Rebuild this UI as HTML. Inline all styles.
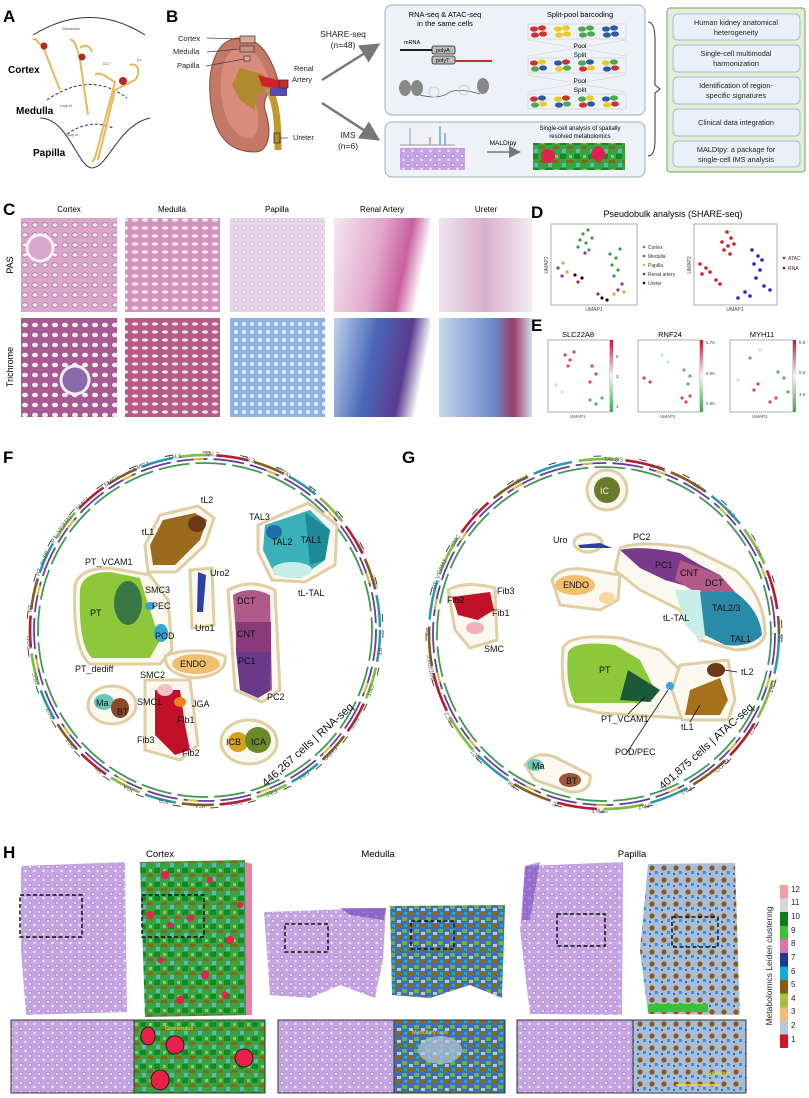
<!DOCTYPE html>
<html><head><meta charset="utf-8"><style>
html,body{margin:0;padding:0;background:#fff;}
svg{display:block;font-family:"Liberation Sans",sans-serif;}
</style></head><body>
<svg width="809" height="1098" viewBox="0 0 809 1098" xmlns="http://www.w3.org/2000/svg">
<defs>
<pattern id="he" width="9" height="9" patternUnits="userSpaceOnUse"><rect width="9" height="9" fill="#c7a5e2"/><circle cx="3" cy="3" r="1.8" fill="#e8dcf4" stroke="#9a70c8" stroke-width="0.6"/><circle cx="7.5" cy="7" r="1.2" fill="#efe6f8"/></pattern>
<pattern id="ctxims" width="14" height="14" patternUnits="userSpaceOnUse"><rect width="14" height="14" fill="#3aa23e"/><rect x="0" y="0" width="6" height="5" fill="#148a24"/><rect x="7" y="6" width="6" height="3" fill="#8a6418"/><rect x="2" y="9" width="4" height="4" fill="#5ab8c0"/><rect x="9" y="1" width="3" height="3" fill="#7ad07a"/></pattern>
<pattern id="medims" width="12" height="12" patternUnits="userSpaceOnUse"><rect width="12" height="12" fill="#3f6fb0"/><rect x="0" y="0" width="5" height="4" fill="#8a6620"/><rect x="6" y="5" width="5" height="4" fill="#6ab050"/><rect x="1" y="8" width="4" height="3" fill="#b8c8e0"/><rect x="8" y="0" width="3" height="3" fill="#20a8d8"/></pattern>
<pattern id="papims" width="12" height="12" patternUnits="userSpaceOnUse"><rect width="12" height="12" fill="#a9bdd9"/><circle cx="4" cy="4" r="2.6" fill="#8a5a18"/><rect x="7" y="7" width="3" height="3" fill="#20a0d8"/><rect x="1" y="9" width="2" height="2" fill="#3a6ab0"/></pattern>
<pattern id="pas1" width="10" height="10" patternUnits="userSpaceOnUse"><rect width="10" height="10" fill="#d9a7cc"/><ellipse cx="5" cy="5" rx="3" ry="2.2" fill="#f6eef4" stroke="#b0608f" stroke-width="0.7"/></pattern>
<pattern id="pas2" width="10" height="8" patternUnits="userSpaceOnUse"><rect width="10" height="8" fill="#d493bf"/><ellipse cx="5" cy="4" rx="3.3" ry="1.7" fill="#f3e6ef"/></pattern>
<pattern id="pas3" width="8" height="8" patternUnits="userSpaceOnUse"><rect width="8" height="8" fill="#e9d6ea"/><circle cx="4" cy="4" r="2" fill="#f8f2f8" stroke="#b89ac8" stroke-width="0.6"/></pattern>
<pattern id="tri1" width="10" height="10" patternUnits="userSpaceOnUse"><rect width="10" height="10" fill="#a85a92"/><ellipse cx="5" cy="5" rx="3" ry="2.3" fill="#f4eef4"/></pattern>
<pattern id="tri2" width="10" height="8" patternUnits="userSpaceOnUse"><rect width="10" height="8" fill="#b85a86"/><ellipse cx="5" cy="4" rx="3.2" ry="1.6" fill="#f2e4ee"/></pattern>
<pattern id="tri3" width="8" height="8" patternUnits="userSpaceOnUse"><rect width="8" height="8" fill="#8fb2de"/><circle cx="4" cy="4" r="2" fill="#e4eef8"/></pattern>
<linearGradient id="ra1" x1="0" y1="0" x2="1" y2="0.2"><stop offset="0" stop-color="#f4e8f0"/><stop offset="0.5" stop-color="#e2a8cc"/><stop offset="0.8" stop-color="#c8609e"/><stop offset="1" stop-color="#fff"/></linearGradient>
<linearGradient id="ra2" x1="0" y1="0" x2="1" y2="0.2"><stop offset="0" stop-color="#c0d4ec"/><stop offset="0.45" stop-color="#4a68b8"/><stop offset="0.8" stop-color="#5a3a90"/><stop offset="1" stop-color="#fff"/></linearGradient>
<linearGradient id="ur1" x1="0" y1="0" x2="1" y2="0"><stop offset="0" stop-color="#f0e4ee"/><stop offset="0.5" stop-color="#d8b0cc"/><stop offset="1" stop-color="#f4ecf2"/></linearGradient>
<linearGradient id="ur2" x1="0" y1="0" x2="1" y2="0"><stop offset="0" stop-color="#c8d8ee"/><stop offset="0.6" stop-color="#6a88c8"/><stop offset="0.8" stop-color="#9a3a6a"/><stop offset="1" stop-color="#d0dcee"/></linearGradient>
<linearGradient id="cb" x1="0" y1="1" x2="0" y2="0">
<stop offset="0" stop-color="#d81030"/><stop offset="0.083" stop-color="#d81030"/>
<stop offset="0.083" stop-color="#b8c8e0"/><stop offset="0.167" stop-color="#b8c8e0"/>
<stop offset="0.167" stop-color="#f8b878"/><stop offset="0.25" stop-color="#f8b878"/>
<stop offset="0.25" stop-color="#a8c040"/><stop offset="0.333" stop-color="#a8c040"/>
<stop offset="0.333" stop-color="#8a5a10"/><stop offset="0.417" stop-color="#8a5a10"/>
<stop offset="0.417" stop-color="#18a8d8"/><stop offset="0.5" stop-color="#18a8d8"/>
<stop offset="0.5" stop-color="#1a3a9a"/><stop offset="0.583" stop-color="#1a3a9a"/>
<stop offset="0.583" stop-color="#e070b0"/><stop offset="0.667" stop-color="#e070b0"/>
<stop offset="0.667" stop-color="#3cc03c"/><stop offset="0.75" stop-color="#3cc03c"/>
<stop offset="0.75" stop-color="#0a7a1a"/><stop offset="0.833" stop-color="#0a7a1a"/>
<stop offset="0.833" stop-color="#d8d8d8"/><stop offset="0.917" stop-color="#d8d8d8"/>
<stop offset="0.917" stop-color="#f4a0a0"/><stop offset="1" stop-color="#f4a0a0"/>
</linearGradient>
<linearGradient id="rg" x1="0" y1="1" x2="0" y2="0"><stop offset="0" stop-color="#3aa84a"/><stop offset="0.5" stop-color="#f4f4f4"/><stop offset="1" stop-color="#d0102a"/></linearGradient>
<marker id="ah" markerWidth="8" markerHeight="8" refX="6" refY="4" orient="auto"><path d="M0,0 L8,4 L0,8 z" fill="#777"/></marker>
<marker id="ah2" markerWidth="8" markerHeight="8" refX="6" refY="4" orient="auto"><path d="M0,0 L8,4 L0,8 z" fill="#555"/></marker>
<path id="cf" d="M205,456 A174,174 0 1 1 204.9,456"/>
<path id="cg" d="M604,461 A174,174 0 1 1 603.9,461"/>
</defs>

<!-- ===== A ===== -->
<text x="3" y="22" font-size="17" font-weight="bold">A</text>
<path d="M33,35 Q90,0 145,35" fill="none" stroke="#333" stroke-width="1"/>
<path d="M47,100 Q90,70 127,98" fill="none" stroke="#333" stroke-width="1" stroke-dasharray="3,2"/>
<path d="M40,118 C68,118 78,168 92,168 C108,168 118,125 150,118" fill="none" stroke="#333" stroke-width="1"/>
<path d="M67,134 Q90,118 113,128" fill="none" stroke="#333" stroke-width="1" stroke-dasharray="3,2"/>
<g fill="none" stroke="#e6b85a" stroke-width="2">
<path d="M33,40 C38,36 36,45 42,44 L60,90"/>
<path d="M70,40 C75,38 78,52 80,60 L88,115"/>
<path d="M95,75 C100,70 110,80 115,82 L95,158 L92,162"/>
<path d="M130,65 C140,62 140,75 135,80 L115,90 L98,160"/>
<path d="M80,48 C84,44 90,45 92,52"/>
</g>
<g fill="#b02a2a"><circle cx="44" cy="46" r="3.5"/><circle cx="82" cy="57" r="3.5"/><circle cx="123" cy="81" r="4"/></g>
<g font-size="3.5" fill="#444"><text x="62" y="30">Glomerulus</text><text x="103" y="65">DCT</text><text x="137" y="62">PT</text><text x="60" y="107">Loop of</text><text x="66" y="136">Loop of</text></g>
<g font-size="10" font-weight="bold"><text x="8" y="73">Cortex</text><text x="16" y="114">Medulla</text><text x="33" y="156">Papilla</text></g>

<!-- ===== B ===== -->
<text x="166" y="22" font-size="17" font-weight="bold">B</text>
<path d="M240,38 C215,38 208,70 210,95 C212,130 225,152 255,152 C270,152 272,130 265,110 C262,100 270,88 278,80 C270,55 260,38 240,38 z" fill="#c47866" stroke="#8a4a3a" stroke-width="1"/>
<path d="M238,48 C222,52 218,80 222,100 C226,125 238,140 252,138 C262,130 258,110 255,100 C262,90 268,82 268,76 C262,58 252,48 238,48 z" fill="#d98c7c"/>
<path d="M240,68 L262,74 L270,82 L258,95 L254,110 L240,100 L232,85 z" fill="#b08a2e"/>
<path d="M268,88 C276,100 278,120 278,150" stroke="#c4972e" stroke-width="7" fill="none"/>
<path d="M258,75 L285,82 L282,90 L262,86 z" fill="#d0202a"/>
<rect x="270" y="88" width="17" height="8" fill="#5a4ab0"/>
<rect x="279" y="80" width="9" height="8" fill="#c03030" stroke="#333" stroke-width="0.8"/>
<rect x="274" y="133" width="6" height="10" fill="#b08a2e" stroke="#333" stroke-width="0.8"/>
<rect x="240" y="36" width="15" height="7" fill="#d8a898" stroke="#444" stroke-width="0.8"/>
<rect x="240" y="46" width="14" height="6" fill="#c8907c" stroke="#444" stroke-width="0.8"/>
<rect x="244" y="56" width="6" height="5" fill="#d8a898" stroke="#444" stroke-width="0.8"/>
<g font-size="7.5" fill="#222"><text x="178" y="41">Cortex</text><text x="173" y="54">Medulla</text><text x="177" y="68">Papilla</text>
<text x="294" y="71">Renal</text><text x="292" y="82">Artery</text><text x="293" y="140">Ureter</text></g>
<g stroke="#444" stroke-width="0.7"><line x1="207" y1="38" x2="240" y2="39"/><line x1="207" y1="52" x2="240" y2="49"/><line x1="206" y1="66" x2="244" y2="59"/><line x1="288" y1="138" x2="280" y2="138"/></g>
<text x="343" y="37" font-size="8.5" text-anchor="middle" fill="#222">SHARE-seq</text>
<text x="343" y="48" font-size="8.5" text-anchor="middle" fill="#222">(n=48)</text>
<text x="348" y="138" font-size="8.5" text-anchor="middle" fill="#222">IMS</text>
<text x="348" y="149" font-size="8.5" text-anchor="middle" fill="#222">(n=6)</text>
<line x1="322" y1="80" x2="376" y2="46" stroke="#777" stroke-width="2.5" marker-end="url(#ah)"/>
<line x1="322" y1="103" x2="376" y2="138" stroke="#777" stroke-width="2.5" marker-end="url(#ah)"/>

<rect x="385" y="5" width="260" height="110" rx="7" fill="#eef2f7" stroke="#a8bccf" stroke-width="1.2"/>
<rect x="385" y="122" width="260" height="55" rx="7" fill="#eef2f7" stroke="#a8bccf" stroke-width="1.2"/>
<text x="445" y="17" font-size="7.5" text-anchor="middle">RNA-seq &amp; ATAC-seq</text>
<text x="445" y="26" font-size="7.5" text-anchor="middle">in the same cells</text>
<text x="580" y="17" font-size="7.5" text-anchor="middle">Split-pool barcoding</text>
<text x="404" y="44" font-size="5.5">mRNA</text>
<line x1="400" y1="50" x2="433" y2="50" stroke="#222" stroke-width="2"/>
<rect x="432" y="46" width="23" height="8" rx="2" fill="#bbb" stroke="#222" stroke-width="0.8"/><text x="436" y="52" font-size="5.5">polyA</text>
<rect x="432" y="56" width="23" height="8" rx="2" fill="#bbb" stroke="#222" stroke-width="0.8"/><text x="436" y="62" font-size="5.5">polyT</text>
<line x1="455" y1="61" x2="492" y2="61" stroke="#c03030" stroke-width="2"/>
<g fill="#888"><ellipse cx="405" cy="88" rx="6" ry="8"/><ellipse cx="417" cy="88" rx="6" ry="8"/><ellipse cx="483" cy="86" rx="6" ry="8"/></g>
<path d="M420,95 Q440,100 450,92 Q460,88 480,94" fill="none" stroke="#555" stroke-width="0.8"/>
<circle cx="434" cy="92" r="5" fill="none" stroke="#ccc"/><circle cx="464" cy="90" r="5" fill="none" stroke="#ccc"/>
<g>
<g transform="translate(530,26)"><ellipse cx="4" cy="3" rx="4" ry="2.6" fill="#d03030"/><ellipse cx="12" cy="2" rx="4" ry="2.6" fill="#d03030"/><ellipse cx="5" cy="9" rx="4" ry="2.6" fill="#d03030"/><ellipse cx="13" cy="8" rx="4" ry="2.6" fill="#d03030"/></g>
<g transform="translate(554,26)"><ellipse cx="4" cy="3" rx="4" ry="2.6" fill="#e8cc20"/><ellipse cx="12" cy="2" rx="4" ry="2.6" fill="#e8cc20"/><ellipse cx="5" cy="9" rx="4" ry="2.6" fill="#e8cc20"/><ellipse cx="13" cy="8" rx="4" ry="2.6" fill="#e8cc20"/></g>
<g transform="translate(578,26)"><ellipse cx="4" cy="3" rx="4" ry="2.6" fill="#4aaa4a"/><ellipse cx="12" cy="2" rx="4" ry="2.6" fill="#4aaa4a"/><ellipse cx="5" cy="9" rx="4" ry="2.6" fill="#4aaa4a"/><ellipse cx="13" cy="8" rx="4" ry="2.6" fill="#4aaa4a"/></g>
<g transform="translate(602,26)"><ellipse cx="4" cy="3" rx="4" ry="2.6" fill="#2a5aa8"/><ellipse cx="12" cy="2" rx="4" ry="2.6" fill="#2a5aa8"/><ellipse cx="5" cy="9" rx="4" ry="2.6" fill="#2a5aa8"/><ellipse cx="13" cy="8" rx="4" ry="2.6" fill="#2a5aa8"/></g>
</g>
<g>
<g transform="translate(530,60)"><ellipse cx="4" cy="3" rx="4" ry="2.6" fill="#d03030"/><ellipse cx="12" cy="2" rx="4" ry="2.6" fill="#e8cc20"/><ellipse cx="5" cy="9" rx="4" ry="2.6" fill="#4aaa4a"/><ellipse cx="13" cy="8" rx="4" ry="2.6" fill="#2a5aa8"/></g>
<g transform="translate(554,60)"><ellipse cx="4" cy="3" rx="4" ry="2.6" fill="#2a5aa8"/><ellipse cx="12" cy="2" rx="4" ry="2.6" fill="#d03030"/><ellipse cx="5" cy="9" rx="4" ry="2.6" fill="#e8cc20"/><ellipse cx="13" cy="8" rx="4" ry="2.6" fill="#4aaa4a"/></g>
<g transform="translate(578,60)"><ellipse cx="4" cy="3" rx="4" ry="2.6" fill="#4aaa4a"/><ellipse cx="12" cy="2" rx="4" ry="2.6" fill="#2a5aa8"/><ellipse cx="5" cy="9" rx="4" ry="2.6" fill="#d03030"/><ellipse cx="13" cy="8" rx="4" ry="2.6" fill="#e8cc20"/></g>
<g transform="translate(602,60)"><ellipse cx="4" cy="3" rx="4" ry="2.6" fill="#e8cc20"/><ellipse cx="12" cy="2" rx="4" ry="2.6" fill="#4aaa4a"/><ellipse cx="5" cy="9" rx="4" ry="2.6" fill="#2a5aa8"/><ellipse cx="13" cy="8" rx="4" ry="2.6" fill="#d03030"/></g>
</g>
<g>
<g transform="translate(530,96)"><ellipse cx="4" cy="3" rx="4" ry="2.6" fill="#d03030"/><ellipse cx="12" cy="2" rx="4" ry="2.6" fill="#2a5aa8"/><ellipse cx="5" cy="9" rx="4" ry="2.6" fill="#4aaa4a"/><ellipse cx="13" cy="8" rx="4" ry="2.6" fill="#e8cc20"/></g>
<g transform="translate(554,96)"><ellipse cx="4" cy="3" rx="4" ry="2.6" fill="#e8cc20"/><ellipse cx="12" cy="2" rx="4" ry="2.6" fill="#d03030"/><ellipse cx="5" cy="9" rx="4" ry="2.6" fill="#2a5aa8"/><ellipse cx="13" cy="8" rx="4" ry="2.6" fill="#4aaa4a"/></g>
<g transform="translate(578,96)"><ellipse cx="4" cy="3" rx="4" ry="2.6" fill="#4aaa4a"/><ellipse cx="12" cy="2" rx="4" ry="2.6" fill="#e8cc20"/><ellipse cx="5" cy="9" rx="4" ry="2.6" fill="#d03030"/><ellipse cx="13" cy="8" rx="4" ry="2.6" fill="#2a5aa8"/></g>
<g transform="translate(602,96)"><ellipse cx="4" cy="3" rx="4" ry="2.6" fill="#2a5aa8"/><ellipse cx="12" cy="2" rx="4" ry="2.6" fill="#4aaa4a"/><ellipse cx="5" cy="9" rx="4" ry="2.6" fill="#e8cc20"/><ellipse cx="13" cy="8" rx="4" ry="2.6" fill="#d03030"/></g>
</g>
<g stroke="#ccc" stroke-width="0.6" fill="none"><rect x="528" y="24" width="98" height="15"/><rect x="528" y="58" width="98" height="15"/><rect x="528" y="94" width="98" height="15"/><path d="M528,40 L626,56 M626,40 L528,56 M528,75 L626,92 M626,75 L528,92"/></g>
<g font-size="6.5" text-anchor="middle"><text x="580" y="48">Pool</text><text x="580" y="57">Split</text><text x="580" y="83">Pool</text><text x="580" y="92">Split</text></g>
<g stroke-width="1"><line x1="410" y1="145" x2="410" y2="128" stroke="#999"/><line x1="430" y1="145" x2="430" y2="137" stroke="#d06060"/><line x1="440" y1="145" x2="440" y2="126" stroke="#3a7ac0"/><line x1="445" y1="145" x2="445" y2="133" stroke="#3a7ac0"/><line x1="400" y1="145" x2="455" y2="145" stroke="#999"/></g>
<rect x="400" y="148" width="65" height="22" fill="url(#he)"/>
<text x="503" y="145" font-size="6.5" text-anchor="middle">MALDIpy</text>
<line x1="487" y1="152" x2="518" y2="152" stroke="#777" stroke-width="1.5" marker-end="url(#ah)"/>
<text x="580" y="130" font-size="6" text-anchor="middle">Single-cell analysis of spatially</text>
<text x="580" y="138" font-size="6" text-anchor="middle">resolved metabolomics</text>
<rect x="533" y="143" width="92" height="27" fill="url(#ctxims)"/>
<circle cx="548" cy="156" r="7" fill="#e02050"/><circle cx="598" cy="154" r="7" fill="#e02050"/>
<path d="M648,22 Q655,22 655,40 L655,85 L660,89 L655,93 L655,140 Q655,156 648,156" fill="none" stroke="#333" stroke-width="1"/>
<rect x="667" y="8" width="138" height="164" rx="3" fill="#e2efd8" stroke="#8aaf72" stroke-width="1.2"/>
<g fill="#e9f0f8" stroke="#a8bccf" stroke-width="1">
<rect x="673" y="14" width="127" height="26" rx="5"/><rect x="673" y="45" width="127" height="27" rx="5"/><rect x="673" y="77" width="127" height="27" rx="5"/><rect x="673" y="109" width="127" height="27" rx="5"/><rect x="673" y="141" width="127" height="26" rx="5"/></g>
<g font-size="7.3" text-anchor="middle" fill="#222">
<text x="736" y="25">Human kidney anatomical</text><text x="736" y="35">heterogeneity</text>
<text x="736" y="56">Single-cell multimodal</text><text x="736" y="66">harmonization</text>
<text x="736" y="88">Identification of region-</text><text x="736" y="98">specific signatures</text>
<text x="736" y="125">Clinical data integration</text>
<text x="736" y="152">MALDIpy: a package for</text><text x="736" y="162">single-cell IMS analysis</text></g>

<!-- ===== C ===== -->
<text x="3" y="215" font-size="17" font-weight="bold">C</text>
<g font-size="8" text-anchor="middle"><text x="69" y="212">Cortex</text><text x="172" y="212">Medulla</text><text x="277" y="212">Papilla</text><text x="382" y="212">Renal Artery</text><text x="486" y="212">Ureter</text></g>
<text transform="translate(13,265) rotate(-90)" font-size="9" text-anchor="middle">PAS</text>
<text transform="translate(13,367) rotate(-90)" font-size="9" text-anchor="middle">Trichrome</text>
<rect x="21" y="218" width="96" height="94" fill="url(#pas1)"/>
<circle cx="40" cy="248" r="13" fill="#d8a8cc" stroke="#f6eef4" stroke-width="3"/>
<rect x="125" y="218" width="95" height="94" fill="url(#pas2)"/>
<rect x="230" y="218" width="95" height="94" fill="url(#pas3)"/>
<rect x="334" y="218" width="96" height="94" fill="url(#ra1)"/>
<rect x="439" y="218" width="93" height="94" fill="url(#ur1)"/>
<rect x="21" y="318" width="96" height="99" fill="url(#tri1)"/>
<circle cx="75" cy="380" r="14" fill="#8a6aa8" stroke="#f4eef4" stroke-width="3"/>
<rect x="125" y="318" width="95" height="99" fill="url(#tri2)"/>
<rect x="230" y="318" width="95" height="99" fill="url(#tri3)"/>
<rect x="334" y="318" width="96" height="99" fill="url(#ra2)"/>
<rect x="439" y="318" width="93" height="99" fill="url(#ur2)"/>

<!-- ===== D ===== -->
<text x="531" y="218" font-size="17" font-weight="bold">D</text>
<text x="673" y="217" font-size="9" text-anchor="middle">Pseudobulk analysis (SHARE-seq)</text>
<rect x="551" y="224" width="86" height="81" fill="#fff" stroke="#999" stroke-width="0.8"/>
<rect x="694" y="224" width="83" height="81" fill="#fff" stroke="#999" stroke-width="0.8"/>
<g font-size="5" fill="#444" text-anchor="middle"><text x="594" y="311">UMAP1</text><text x="735" y="311">UMAP1</text>
<text transform="translate(548,265) rotate(-90)">UMAP2</text><text transform="translate(691,265) rotate(-90)">UMAP2</text></g>
<g fill="#3a9a4a"><circle cx="583" cy="234" r="1.6"/><circle cx="588" cy="230" r="1.6"/><circle cx="580" cy="240" r="1.6"/><circle cx="586" cy="243" r="1.6"/><circle cx="592" cy="238" r="1.6"/><circle cx="578" cy="247" r="1.6"/><circle cx="589" cy="250" r="1.6"/><circle cx="610" cy="254" r="1.6"/><circle cx="616" cy="258" r="1.6"/><circle cx="612" cy="265" r="1.6"/><circle cx="618" cy="270" r="1.6"/><circle cx="614" cy="276" r="1.6"/><circle cx="620" cy="249" r="1.6"/></g>
<g fill="#7a3aaa"><circle cx="558" cy="268" r="1.6"/><circle cx="562" cy="276" r="1.6"/><circle cx="585" cy="253" r="1.6"/><circle cx="618" cy="290" r="1.6"/><circle cx="622" cy="284" r="1.6"/></g>
<g fill="#e8a838"><circle cx="563" cy="263" r="1.6"/><circle cx="567" cy="272" r="1.6"/><circle cx="614" cy="294" r="1.6"/><circle cx="624" cy="292" r="1.6"/></g>
<g fill="#c02020"><circle cx="578" cy="282" r="1.6"/><circle cx="598" cy="294" r="1.6"/></g>
<g fill="#111"><circle cx="575" cy="275" r="1.6"/><circle cx="582" cy="278" r="1.6"/><circle cx="602" cy="298" r="1.6"/><circle cx="607" cy="300" r="1.6"/></g>
<g font-size="5" fill="#333"><text x="648" y="249">Cortex</text><text x="648" y="258">Medulla</text><text x="648" y="267">Papilla</text><text x="648" y="276">Renal artery</text><text x="648" y="285">Ureter</text><text x="788" y="260">ATAC</text><text x="788" y="270">RNA</text></g>
<g><circle cx="644" cy="247" r="1.3" fill="#3a9a4a"/><circle cx="644" cy="256" r="1.3" fill="#7a3aaa"/><circle cx="644" cy="265" r="1.3" fill="#e8a838"/><circle cx="644" cy="274" r="1.3" fill="#c02020"/><circle cx="644" cy="283" r="1.3" fill="#111"/><circle cx="784" cy="258" r="1.3" fill="#d02020"/><circle cx="784" cy="268" r="1.3" fill="#1a2ad0"/></g>
<g fill="#d82020"><circle cx="727" cy="232" r="1.8"/><circle cx="731" cy="238" r="1.8"/><circle cx="722" cy="242" r="1.8"/><circle cx="728" cy="246" r="1.8"/><circle cx="734" cy="244" r="1.8"/><circle cx="724" cy="250" r="1.8"/><circle cx="730" cy="254" r="1.8"/><circle cx="700" cy="264" r="1.8"/><circle cx="706" cy="268" r="1.8"/><circle cx="702" cy="274" r="1.8"/><circle cx="710" cy="272" r="1.8"/><circle cx="716" cy="280" r="1.8"/><circle cx="720" cy="284" r="1.8"/></g>
<g fill="#1a2ad0"><circle cx="752" cy="250" r="1.8"/><circle cx="758" cy="256" r="1.8"/><circle cx="754" cy="264" r="1.8"/><circle cx="760" cy="270" r="1.8"/><circle cx="756" cy="278" r="1.8"/><circle cx="764" cy="286" r="1.8"/><circle cx="745" cy="292" r="1.8"/><circle cx="738" cy="298" r="1.8"/><circle cx="770" cy="290" r="1.8"/><circle cx="750" cy="296" r="1.8"/><circle cx="762" cy="260" r="1.8"/></g>

<!-- ===== E ===== -->
<text x="531" y="331" font-size="17" font-weight="bold">E</text>
<g font-size="7.5" text-anchor="middle"><text x="578" y="337">SLC22A8</text><text x="670" y="337">RNF24</text><text x="762" y="337">MYH11</text></g>
<g fill="#fff" stroke="#999" stroke-width="0.8"><rect x="548" y="340" width="62" height="72"/><rect x="638" y="340" width="62" height="72"/><rect x="730" y="340" width="63" height="72"/></g>
<rect x="610" y="340" width="3" height="72" fill="url(#rg)"/><rect x="700" y="340" width="3" height="72" fill="url(#rg)"/><rect x="793" y="340" width="3" height="72" fill="url(#rg)"/>
<g fill="#e04848"><circle cx="565" cy="355" r="1.6"/><circle cx="570" cy="360" r="1.6"/><circle cx="568" cy="366" r="1.6"/><circle cx="574" cy="352" r="1.6"/><circle cx="592" cy="366" r="1.6"/><circle cx="596" cy="374" r="1.6"/><circle cx="590" cy="382" r="1.6"/><circle cx="682" cy="398" r="1.6"/><circle cx="686" cy="402" r="1.6"/><circle cx="690" cy="396" r="1.6"/><circle cx="644" cy="378" r="1.6"/><circle cx="650" cy="382" r="1.6"/><circle cx="758" cy="384" r="1.6"/><circle cx="754" cy="390" r="1.6"/><circle cx="770" cy="402" r="1.6"/><circle cx="776" cy="398" r="1.6"/></g>
<g fill="#58b858"><circle cx="590" cy="400" r="1.6"/><circle cx="596" cy="404" r="1.6"/><circle cx="602" cy="398" r="1.6"/><circle cx="684" cy="370" r="1.6"/><circle cx="690" cy="376" r="1.6"/><circle cx="688" cy="384" r="1.6"/><circle cx="778" cy="372" r="1.6"/><circle cx="784" cy="378" r="1.6"/><circle cx="788" cy="392" r="1.6"/><circle cx="750" cy="358" r="1.6"/></g>
<g fill="#c8e8c8"><circle cx="556" cy="385" r="1.6"/><circle cx="562" cy="392" r="1.6"/><circle cx="662" cy="355" r="1.6"/><circle cx="668" cy="362" r="1.6"/><circle cx="738" cy="380" r="1.6"/><circle cx="760" cy="350" r="1.6"/></g>
<g font-size="4.5" fill="#444"><text x="570" y="418">UMAP1</text><text x="660" y="418">UMAP1</text><text x="752" y="418">UMAP1</text>
<text x="616" y="358">5</text><text x="616" y="378">3</text><text x="616" y="408">1</text><text x="706" y="344">5.75</text><text x="706" y="375">5.00</text><text x="706" y="405">4.50</text><text x="799" y="344">6.0</text><text x="799" y="374">5.0</text><text x="799" y="396">4.0</text></g>

<!-- ===== F ===== -->
<text x="3" y="463" font-size="17" font-weight="bold">F</text>
<g fill="none">
<circle cx="205" cy="630" r="167" stroke="#3e9a52" stroke-width="1.8" stroke-dasharray="31,6"/>
<circle cx="205" cy="630" r="171" stroke="#6a3aa0" stroke-width="1.8" stroke-dasharray="31,6"/>
<circle cx="205" cy="630" r="171" stroke="#e8b838" stroke-width="1.8" stroke-dasharray="10,64" stroke-dashoffset="20"/>
<circle cx="205" cy="630" r="175" stroke="#2a98a8" stroke-width="2.5" stroke-dasharray="32,6"/>
<circle cx="205" cy="630" r="175" stroke="#8a5a1a" stroke-width="2.5" stroke-dasharray="32,120" stroke-dashoffset="38"/>
<circle cx="205" cy="630" r="175" stroke="#c01a2a" stroke-width="2.5" stroke-dasharray="32,120" stroke-dashoffset="76"/>
<circle cx="205" cy="630" r="175" stroke="#80c040" stroke-width="2.5" stroke-dasharray="32,120" stroke-dashoffset="114"/>
<circle cx="205" cy="630" r="178" stroke="#222" stroke-width="0.8" stroke-dasharray="8,30"/>
</g>
<g font-size="6" fill="#555"><text><textPath href="#cf" startOffset="0%">TAL2</textPath></text><text><textPath href="#cf" startOffset="3.3%">TAL3</textPath></text><text><textPath href="#cf" startOffset="6.6%">tL-TAL</textPath></text><text><textPath href="#cf" startOffset="10%">tL1</textPath></text><text><textPath href="#cf" startOffset="13.3%">tL2</textPath></text><text><textPath href="#cf" startOffset="16.6%">Uro1</textPath></text><text><textPath href="#cf" startOffset="20%">Uro2</textPath></text><text><textPath href="#cf" startOffset="26.6%">BT</textPath></text><text><textPath href="#cf" startOffset="30%">CNT</textPath></text><text><textPath href="#cf" startOffset="33.3%">DCT</textPath></text><text><textPath href="#cf" startOffset="36.6%">ENDO</textPath></text><text><textPath href="#cf" startOffset="40%">Fib1</textPath></text><text><textPath href="#cf" startOffset="43.3%">Fib2</textPath></text><text><textPath href="#cf" startOffset="46.6%">Fib3</textPath></text><text><textPath href="#cf" startOffset="50%">ICA</textPath></text><text><textPath href="#cf" startOffset="53.3%">ICB</textPath></text><text><textPath href="#cf" startOffset="56.6%">JGA</textPath></text><text><textPath href="#cf" startOffset="60%">Ma</textPath></text><text><textPath href="#cf" startOffset="63.3%">PC1</textPath></text><text><textPath href="#cf" startOffset="66.6%">PC2</textPath></text><text><textPath href="#cf" startOffset="70%">PEC</textPath></text><text><textPath href="#cf" startOffset="73.3%">POD</textPath></text><text><textPath href="#cf" startOffset="76.6%">PT</textPath></text><text><textPath href="#cf" startOffset="80%">PT_dediff</textPath></text><text><textPath href="#cf" startOffset="83.3%">PT_VCAM1</textPath></text><text><textPath href="#cf" startOffset="87%">SMC1</textPath></text><text><textPath href="#cf" startOffset="90.3%">SMC2</textPath></text><text><textPath href="#cf" startOffset="93.3%">SMC3</textPath></text><text><textPath href="#cf" startOffset="96.6%">TAL1</textPath></text></g>
<!-- outlines -->
<g fill="#fbf8f0" stroke="#e0cfa4" stroke-width="3">
<path d="M145,545 L160,515 L198,506 L214,518 L205,545 L176,572 L148,572 z"/>
<path d="M258,525 L308,503 L337,525 L335,565 L305,582 L272,580 L258,552 z"/>
<path d="M75,585 Q80,568 110,568 L150,575 L168,600 L172,650 L160,664 L90,664 Q72,650 75,585 z"/>
<path d="M228,590 Q250,578 275,590 L280,690 L262,702 L235,690 z"/>
<path d="M165,656 Q195,645 225,656 Q228,675 195,678 Q165,675 165,656 z"/>
<path d="M190,570 L212,568 L214,625 L192,628 z"/>
<ellipse cx="112" cy="705" rx="24" ry="19"/>
<path d="M145,680 L190,680 L198,745 L180,760 L145,750 z"/>
<ellipse cx="249" cy="742" rx="28" ry="22"/>
</g>
<path d="M150,545 L163,520 L195,513 L207,520 L200,540 L175,565 L153,565 z" fill="#9c6a1c"/>
<ellipse cx="197" cy="524" rx="9" ry="8" fill="#6a3a18"/>
<path d="M265,525 L310,510 L330,530 L325,560 L300,578 L275,575 L263,550 z" fill="#3ab0b8"/>
<path d="M305,512 L330,530 L325,560 L310,565 z" fill="#1e8a98"/>
<ellipse cx="274" cy="532" rx="8" ry="7" fill="#1a70a8"/>
<ellipse cx="292" cy="570" rx="20" ry="8" fill="#c8eee8"/>
<path d="M80,590 Q82,572 110,572 L140,578 L150,610 L160,640 L150,658 L92,658 Q78,645 80,590 z" fill="#8cc83a"/>
<ellipse cx="128" cy="603" rx="14" ry="22" fill="#2a6a44" opacity="0.85"/>
<ellipse cx="150" cy="606" rx="5" ry="4" fill="#3aa0d8"/>
<ellipse cx="161" cy="633" rx="7" ry="9" fill="#2fa8d8"/>
<path d="M198,572 L206,575 L203,612 L197,612 z" fill="#2a3fa8"/>
<path d="M233,595 Q250,585 270,595 L272,690 L258,698 L240,690 z" fill="#b05a8a"/>
<rect x="236" y="622" width="35" height="30" fill="#8a3a7a"/>
<path d="M236,652 L271,652 L270,690 L258,698 L240,690 z" fill="#6a3a8a"/>
<ellipse cx="196" cy="664" rx="24" ry="10" fill="#f0c070"/>
<ellipse cx="104" cy="702" rx="10" ry="8" fill="#6cc6b8"/><ellipse cx="120" cy="708" rx="9" ry="10" fill="#8a4a2a"/>
<path d="M155,690 L180,690 L185,725 L190,750 L175,755 L155,735 z" fill="#c0102a"/>
<ellipse cx="180" cy="702" rx="6" ry="5" fill="#f08020"/>
<ellipse cx="165" cy="690" rx="8" ry="6" fill="#f4c0c8"/>
<ellipse cx="238" cy="742" rx="10" ry="10" fill="#d4a020"/><ellipse cx="258" cy="740" rx="13" ry="13" fill="#6a8a2a"/>
<g font-size="9" fill="#111">
<text x="148" y="535" text-anchor="middle">tL1</text><text x="207" y="503" text-anchor="middle">tL2</text>
<text x="249" y="520">TAL3</text><text x="282" y="545" text-anchor="middle">TAL2</text><text x="311" y="543" text-anchor="middle">TAL1</text>
<text x="298" y="596">tL-TAL</text>
<text x="85" y="565">PT_VCAM1</text><text x="90" y="616">PT</text><text x="152" y="609">PEC</text><text x="155" y="639">POD</text>
<text x="145" y="593">SMC3</text><text x="210" y="576">Uro2</text><text x="195" y="631">Uro1</text>
<text x="237" y="604">DCT</text><text x="237" y="637">CNT</text><text x="238" y="664">PC1</text><text x="267" y="700">PC2</text>
<text x="75" y="672">PT_dediff</text><text x="180" y="667">ENDO</text>
<text x="96" y="706">Ma</text><text x="117" y="715">BT</text>
<text x="140" y="678">SMC2</text><text x="137" y="705">SMC1</text><text x="192" y="707">JGA</text><text x="177" y="723">Fib1</text><text x="137" y="743">Fib3</text><text x="182" y="756">Fib2</text>
<text x="226" y="745">ICB</text><text x="251" y="745">ICA</text>
</g>
<text transform="translate(266,787) rotate(-42)" font-size="11" fill="#111">446,267 cells | RNA-seq</text>

<!-- ===== G ===== -->
<text x="402" y="463" font-size="17" font-weight="bold">G</text>
<g fill="none">
<circle cx="604" cy="634" r="167" stroke="#3e9a52" stroke-width="1.8" stroke-dasharray="31,6"/>
<circle cx="604" cy="634" r="171" stroke="#6a3aa0" stroke-width="1.8" stroke-dasharray="31,6"/>
<circle cx="604" cy="634" r="171" stroke="#e8b838" stroke-width="1.8" stroke-dasharray="10,64" stroke-dashoffset="30"/>
<circle cx="604" cy="634" r="175" stroke="#2a98a8" stroke-width="2.5" stroke-dasharray="40,7"/>
<circle cx="604" cy="634" r="175" stroke="#8a5a1a" stroke-width="2.5" stroke-dasharray="40,148" stroke-dashoffset="47"/>
<circle cx="604" cy="634" r="175" stroke="#c01a2a" stroke-width="2.5" stroke-dasharray="40,148" stroke-dashoffset="94"/>
<circle cx="604" cy="634" r="175" stroke="#80c040" stroke-width="2.5" stroke-dasharray="40,148" stroke-dashoffset="141"/>
<circle cx="604" cy="634" r="178" stroke="#222" stroke-width="0.8" stroke-dasharray="8,38"/>
</g>
<g font-size="6" fill="#555"><text><textPath href="#cg" startOffset="0%">TAL2/3</textPath></text><text><textPath href="#cg" startOffset="4.2%">tL-TAL</textPath></text><text><textPath href="#cg" startOffset="8.4%">tL1</textPath></text><text><textPath href="#cg" startOffset="12.5%">tL2</textPath></text><text><textPath href="#cg" startOffset="16.7%">Uro</textPath></text><text><textPath href="#cg" startOffset="25%">BT</textPath></text><text><textPath href="#cg" startOffset="29.2%">CNT</textPath></text><text><textPath href="#cg" startOffset="33.4%">DCT</textPath></text><text><textPath href="#cg" startOffset="37.5%">ENDO</textPath></text><text><textPath href="#cg" startOffset="41.7%">Fib1</textPath></text><text><textPath href="#cg" startOffset="45.8%">Fib2</textPath></text><text><textPath href="#cg" startOffset="50%">Fib3</textPath></text><text><textPath href="#cg" startOffset="54.2%">IC</textPath></text><text><textPath href="#cg" startOffset="58.4%">Ma</textPath></text><text><textPath href="#cg" startOffset="62.5%">PC1</textPath></text><text><textPath href="#cg" startOffset="66.7%">PC2</textPath></text><text><textPath href="#cg" startOffset="70.8%">POD/PEC</textPath></text><text><textPath href="#cg" startOffset="75%">PT</textPath></text><text><textPath href="#cg" startOffset="79.2%">PT_VCAM1</textPath></text><text><textPath href="#cg" startOffset="83.4%">SMC</textPath></text><text><textPath href="#cg" startOffset="91.7%">TAL1</textPath></text></g>
<g fill="#fbf8f0" stroke="#e0cfa4" stroke-width="3">
<circle cx="607" cy="490" r="20"/>
<ellipse cx="588" cy="543" rx="14" ry="9"/>
<path d="M620,548 Q640,540 690,548 L735,570 Q765,595 765,635 Q760,650 735,650 L700,640 L680,610 L640,590 L615,570 z"/>
<path d="M552,580 Q560,565 590,570 L620,575 L618,600 L600,610 L560,605 z"/>
<path d="M448,590 Q465,580 495,588 L497,640 L470,648 L455,630 z"/>
<path d="M563,648 Q570,633 620,638 L660,650 L690,680 L700,710 L680,718 L600,713 L568,705 Q560,680 563,648 z"/>
<path d="M680,665 L728,660 L735,700 L728,720 L682,720 L672,690 z"/>
<path d="M525,765 Q535,750 555,757 L590,775 Q592,793 570,792 L535,780 z"/>
</g>
<circle cx="607" cy="490" r="13" fill="#6a7a2a"/>
<path d="M578,545 L600,543 L612,548 L580,548 z" fill="#2a3fa8"/>
<path d="M620,550 Q640,545 680,553 L700,565 L720,575 L732,590 L700,590 L665,580 L640,568 z" fill="#7a3a8a"/>
<path d="M680,560 L720,575 L735,592 L700,595 L675,580 z" fill="#b05a8a"/>
<path d="M675,590 L700,590 L715,630 L700,640 L685,625 z" fill="#c8eee8"/>
<path d="M700,592 L735,592 Q760,610 762,635 Q750,648 725,645 L705,635 z" fill="#2a8aa8"/>
<ellipse cx="575" cy="585" rx="20" ry="10" fill="#f0c070"/><ellipse cx="607" cy="598" rx="8" ry="6" fill="#f4d8a0"/>
<path d="M452,597 L490,592 L494,610 L478,620 L458,615 z" fill="#c0102a"/>
<ellipse cx="475" cy="628" rx="9" ry="6" fill="#f0b0b8"/>
<path d="M568,652 Q575,640 615,645 L640,660 L655,690 L640,703 L575,703 Q565,685 568,652 z" fill="#8cc83a"/>
<path d="M628,670 L660,690 L650,702 L620,700 z" fill="#1a5a38"/>
<circle cx="670" cy="686" r="4" fill="#3aa8d8"/>
<ellipse cx="716" cy="670" rx="9" ry="7" fill="#6a3a18"/>
<path d="M690,690 L720,678 L728,700 L720,715 L685,715 z" fill="#a6711a"/>
<ellipse cx="535" cy="765" rx="8" ry="6" fill="#6cc6b8"/><ellipse cx="570" cy="780" rx="11" ry="7" fill="#9a5a3a"/>
<g font-size="9" fill="#111">
<text x="600" y="494" fill="#eee">IC</text><text x="553" y="543">Uro</text><text x="633" y="540">PC2</text>
<text x="655" y="568">PC1</text><text x="680" y="576">CNT</text><text x="705" y="586">DCT</text><text x="712" y="611">TAL2/3</text><text x="730" y="642">TAL1</text><text x="663" y="621">tL-TAL</text>
<text x="563" y="588">ENDO</text><text x="447" y="603">Fib2</text><text x="497" y="594">Fib3</text><text x="492" y="616">Fib1</text><text x="484" y="652">SMC</text>
<text x="599" y="673">PT</text><text x="601" y="722">PT_VCAM1</text><text x="615" y="755">POD/PEC</text><text x="741" y="675">tL2</text><text x="681" y="730">tL1</text>
<text x="532" y="769">Ma</text><text x="566" y="784">BT</text></g>
<g stroke="#111" stroke-width="0.8"><line x1="626" y1="754" x2="668" y2="690"/><line x1="628" y1="714" x2="645" y2="697"/><line x1="737" y1="672" x2="724" y2="670"/><line x1="690" y1="722" x2="700" y2="705"/></g>
<text transform="translate(663,790) rotate(-42)" font-size="11" fill="#111">401,875 cells | ATAC-seq</text>

<!-- ===== H ===== -->
<text x="3" y="858" font-size="17" font-weight="bold">H</text>
<g font-size="9.5" text-anchor="middle"><text x="160" y="857">Cortex</text><text x="378" y="857">Medulla</text><text x="632" y="857">Papilla</text></g>
<path d="M21,866 L125,862 L127,1012 L26,1015 L21,950 z" fill="url(#he)"/>
<path d="M140,862 L245,860 L252,1015 L145,1017 z" fill="url(#ctxims)"/>
<path d="M245,862 L252,864 L252,1015 L246,1015 z" fill="#e880b0"/>
<g fill="#e8204a"><circle cx="165" cy="875" r="4"/><circle cx="210" cy="880" r="3"/><circle cx="150" cy="915" r="4"/><circle cx="190" cy="918" r="3.5"/><circle cx="170" cy="925" r="3"/><circle cx="230" cy="940" r="4"/><circle cx="160" cy="960" r="3"/><circle cx="205" cy="975" r="4"/><circle cx="225" cy="995" r="3.5"/><circle cx="180" cy="1000" r="4"/><circle cx="240" cy="905" r="3"/></g>
<path d="M264,912 L386,908 L383,960 L375,998 L340,985 L310,998 L270,995 z" fill="url(#he)"/>
<path d="M340,908 L386,908 L384,920 L350,915 z" fill="#6a3ab8" opacity="0.6"/>
<path d="M390,906 L505,905 L502,998 L470,985 L430,998 L392,995 z" fill="url(#medims)"/>
<path d="M525,866 L623,862 L622,1015 L530,1014 L520,930 z" fill="url(#he)"/>
<path d="M525,866 L540,862 L530,920 L522,920 z" fill="#6a3ab8" opacity="0.5"/>
<path d="M648,864 L735,863 L740,1015 L648,1014 L640,950 z" fill="url(#papims)"/>
<rect x="648" y="1004" width="60" height="8" fill="#3cc03c"/>
<g fill="none" stroke="#111" stroke-width="1.5" stroke-dasharray="4,2.5">
<rect x="20" y="895" width="62" height="42"/><rect x="142" y="895" width="62" height="42"/>
<rect x="285" y="924" width="43" height="28"/><rect x="411" y="921" width="43" height="28"/>
<rect x="557" y="914" width="48" height="32"/><rect x="672" y="917" width="46" height="30"/>
</g>
<rect x="11" y="1020" width="123" height="73" fill="url(#he)" stroke="#333"/>
<rect x="134" y="1020" width="131" height="73" fill="url(#ctxims)" stroke="#333"/>
<g fill="#e8204a" stroke="#111" stroke-width="0.8"><ellipse cx="148" cy="1036" rx="7" ry="9"/><ellipse cx="175" cy="1045" rx="9" ry="9"/><ellipse cx="160" cy="1080" rx="9" ry="10"/><ellipse cx="244" cy="1058" rx="9" ry="9"/></g>
<text x="165" y="1030" font-size="5.5" fill="#f0e020">Glomerulus</text>
<rect x="278" y="1020" width="116" height="73" fill="url(#he)" stroke="#333"/>
<rect x="394" y="1020" width="111" height="73" fill="url(#medims)" stroke="#333"/>
<ellipse cx="440" cy="1050" rx="22" ry="14" fill="#b8c8e0" opacity="0.7"/>
<text x="412" y="1034" font-size="5.5" fill="#f0e020">Medullary rays</text>
<rect x="517" y="1020" width="116" height="73" fill="url(#he)" stroke="#333"/>
<rect x="633" y="1020" width="113" height="73" fill="url(#papims)" stroke="#333"/>
<text x="706" y="1075" font-size="5.5" fill="#f0e020">Collecting</text>
<line x1="676" y1="1085" x2="720" y2="1085" stroke="#f0e020" stroke-width="1.5"/>
<rect x="780" y="885" width="8" height="163" fill="url(#cb)"/>
<g font-size="8" fill="#222"><text x="791" y="892">12</text><text x="791" y="905">11</text><text x="791" y="919">10</text><text x="791" y="933">9</text><text x="791" y="946">8</text><text x="791" y="960">7</text><text x="791" y="974">6</text><text x="791" y="987">5</text><text x="791" y="1001">4</text><text x="791" y="1014">3</text><text x="791" y="1028">2</text><text x="791" y="1042">1</text></g>
<text transform="translate(772,966) rotate(-90)" font-size="8.5" text-anchor="middle" fill="#222">Metabolomics Leiden clustering</text>
</svg>
</body></html>
